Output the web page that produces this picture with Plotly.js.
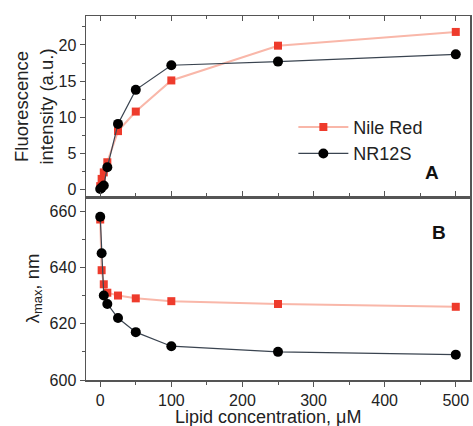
<!DOCTYPE html>
<html>
<head>
<meta charset="utf-8">
<script src="https://cdn.plot.ly/plotly-3.0.1.min.js"></script>
<style>html,body{margin:0;padding:0;background:#fff;}#plot{width:473px;height:426px;}</style>
</head>
<body>
<div id="plot"></div>
<script>
// Lipid concentration (µM)
var lipidConc = [0, 2, 5, 10, 25, 50, 100, 250, 500];
// Panel A: fluorescence intensity (a.u.)
var nileRedIntensity = [0.5, 1.5, 2.4, 3.8, 8.1, 10.8, 15.1, 19.9, 21.8];
var nr12sIntensity   = [0.1, 0.3, 0.6, 3.1, 9.1, 13.8, 17.2, 17.7, 18.7];
// Panel B: emission maximum (nm)
var nileRedLambda = [657, 639, 634, 631, 630, 629, 628, 627, 626];
var nr12sLambda   = [658, 645, 630, 627, 622, 617, 612, 610, 609];

var seriesNames = ['Nile Red', 'NR12S'];
var xTickVals = [0, 100, 200, 300, 400, 500];
var xTitle = 'Lipid concentration, μM';

var redLine = '#f9b7a9', redMarker = '#ee3b2c';
var blkLine = '#3a4450', blkMarker = '#000000';
var fontFam = 'Liberation Sans, Arial, sans-serif';
var axisCol = '#555555';

var traces = [
  {x: lipidConc, y: nileRedIntensity, xaxis: 'x2', yaxis: 'y', name: seriesNames[0], mode: 'lines+markers',
   line: {color: redLine, width: 2}, marker: {symbol: 'square', size: 8, color: redMarker}},
  {x: lipidConc, y: nr12sIntensity, xaxis: 'x2', yaxis: 'y', name: seriesNames[1], mode: 'lines+markers',
   line: {color: blkLine, width: 1.2}, marker: {symbol: 'circle', size: 10, color: blkMarker}},
  {x: lipidConc, y: nileRedLambda, xaxis: 'x', yaxis: 'y2', name: seriesNames[0], mode: 'lines+markers', showlegend: false,
   line: {color: redLine, width: 2}, marker: {symbol: 'square', size: 8, color: redMarker}},
  {x: lipidConc, y: nr12sLambda, xaxis: 'x', yaxis: 'y2', name: seriesNames[1], mode: 'lines+markers', showlegend: false,
   line: {color: blkLine, width: 1.2}, marker: {symbol: 'circle', size: 10, color: blkMarker}}
];

var split = 183/364;
var tickFont = {family: fontFam, size: 16, color: '#222'};
var titleFont = {family: fontFam, size: 18.5, color: '#222'};

var layout = {
  width: 473, height: 426,
  margin: {l: 86, r: 3, t: 16, b: 46},
  paper_bgcolor: '#ffffff', plot_bgcolor: '#ffffff',
  font: {family: fontFam, color: '#222'},
  showlegend: true,
  legend: {x: 0.54, y: 0.745, xanchor: 'left', yanchor: 'top', bgcolor: 'rgba(0,0,0,0)',
           font: {family: fontFam, size: 18, color: '#222'}, itemwidth: 50, tracegroupgap: 0},
  xaxis: {domain: [0, 1], anchor: 'y2', range: [-20, 520], tickvals: xTickVals,
          ticks: 'outside', ticklen: 5, tickcolor: axisCol, showline: true, linecolor: axisCol, linewidth: 1.5,
          mirror: 'ticks', showgrid: false, zeroline: false, tickfont: tickFont,
          minor: {dtick: 50, ticks: 'outside', ticklen: 3, tickcolor: axisCol}},
  xaxis2: {domain: [0, 1], anchor: 'y', matches: 'x', range: [-20, 520], tickvals: xTickVals, showticklabels: false,
           ticks: 'inside', ticklen: 5, tickcolor: axisCol, showline: true, linecolor: axisCol, linewidth: 1.5,
           mirror: 'ticks', showgrid: false, zeroline: false,
           minor: {dtick: 50, ticks: 'inside', ticklen: 3, tickcolor: axisCol}},
  yaxis: {domain: [split, 1], anchor: 'x2', range: [-1, 24], tickvals: [0, 5, 10, 15, 20],
          ticks: 'outside', ticklen: 5, tickcolor: axisCol, showline: true, linecolor: axisCol, linewidth: 1.5,
          mirror: true, showgrid: false, zeroline: false, tickfont: tickFont,
          minor: {dtick: 2.5, ticks: 'outside', ticklen: 3, tickcolor: axisCol},
          title: {text: 'Fluorescence<br>intensity (a.u.)', font: titleFont}},
  yaxis2: {domain: [0, split], anchor: 'x', range: [600, 665], tickvals: [600, 620, 640, 660],
           ticks: 'outside', ticklen: 5, tickcolor: axisCol, showline: true, linecolor: axisCol, linewidth: 1.5,
           mirror: true, showgrid: false, zeroline: false, tickfont: tickFont,
           minor: {dtick: 10, ticks: 'outside', ticklen: 3, tickcolor: axisCol},
           title: {text: 'λ<sub>max</sub>, nm', font: titleFont}},
  annotations: [
    {xref: 'paper', yref: 'paper', x: 0.474, y: -0.103, xanchor: 'center', yanchor: 'middle', text: xTitle,
     showarrow: false, font: {family: fontFam, size: 18, color: '#222'}},
    {xref: 'paper', yref: 'paper', x: 0.925, y: 0.57, text: '<b>A</b>', showarrow: false,
     font: {family: fontFam, size: 19, color: '#111'}},
    {xref: 'paper', yref: 'paper', x: 0.942, y: 0.405, text: '<b>B</b>', showarrow: false,
     font: {family: fontFam, size: 19, color: '#111'}}
  ]
};

Plotly.newPlot('plot', traces, layout, {displayModeBar: false, staticPlot: true});
</script>
</body>
</html>
